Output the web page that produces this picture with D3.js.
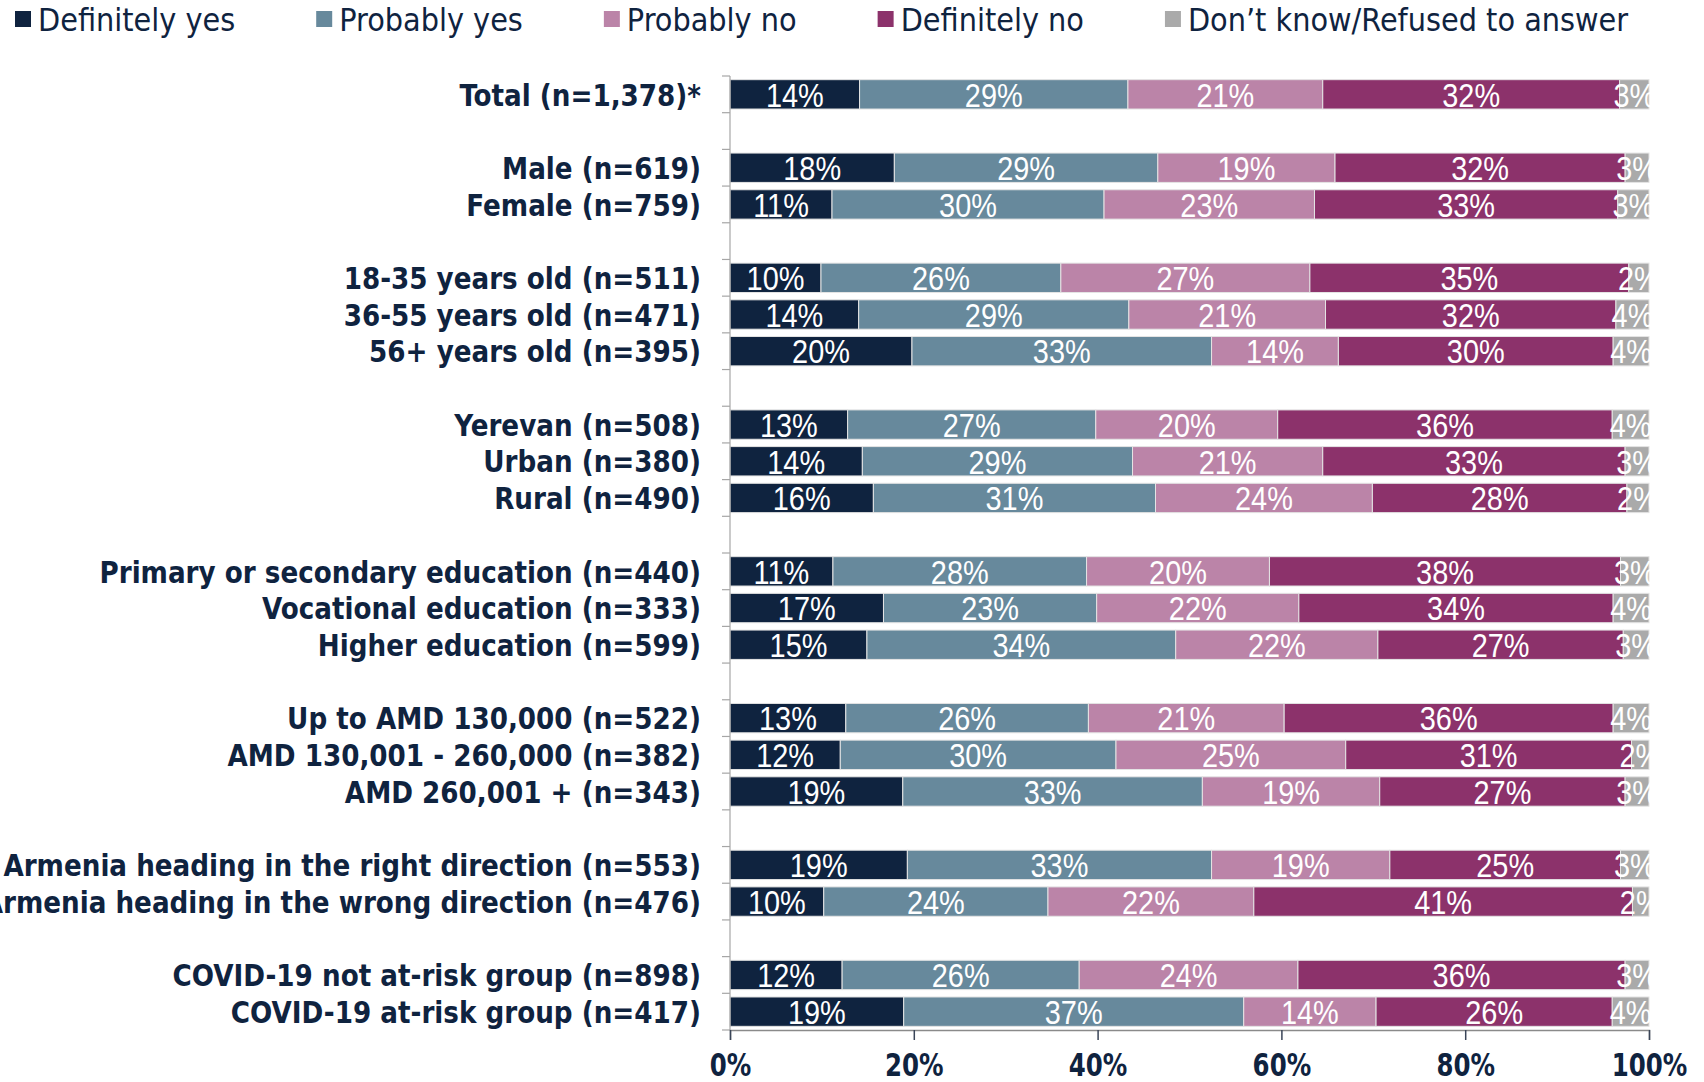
<!DOCTYPE html>
<html>
<head>
<meta charset="utf-8">
<script src="https://cdn.jsdelivr.net/npm/d3@7"></script>
<style>
  html, body { margin: 0; padding: 0; background: #fff; }
  svg { display: block; }
</style>
</head>
<body>
<div id="chart"></div>
<script>
// categories, top to bottom
var categories = [
    "Total (n=1,378)*",
    "Male (n=619)", "Female (n=759)",
    "18-35 years old (n=511)", "36-55 years old (n=471)", "56+ years old (n=395)",
    "Yerevan (n=508)", "Urban (n=380)", "Rural (n=490)",
    "Primary or secondary education (n=440)", "Vocational education (n=333)", "Higher education (n=599)",
    "Up to AMD 130,000 (n=522)", "AMD 130,001 - 260,000 (n=382)", "AMD 260,001 + (n=343)",
    "Armenia heading in the right direction (n=553)", "Armenia heading in the wrong direction (n=476)",
    "COVID-19 not at-risk group (n=898)", "COVID-19 at-risk group (n=417)"
];
// how many categories sit in each block (blocks split by an empty row)
var groupSizes = [1, 2, 3, 3, 3, 3, 2, 2];

var seriesNames = ["Definitely yes", "Probably yes", "Probably no", "Definitely no", "Don\u2019t know/Refused to answer"];

var definitelyYes = [14.1, 17.9, 11.1, 9.9, 14.0, 19.8, 12.8, 14.4, 15.6, 11.2, 16.7, 14.9, 12.6, 12.0, 18.8, 19.3, 10.2, 12.2, 18.9];
var probablyYes   = [29.2, 28.7, 29.6, 26.1, 29.4, 32.6, 27.0, 29.4, 30.7, 27.6, 23.2, 33.6, 26.4, 30.0, 32.6, 33.1, 24.4, 25.8, 37.0];
var probablyNo    = [21.2, 19.3, 22.9, 27.1, 21.4, 13.8, 19.8, 20.7, 23.6, 19.9, 22.0, 22.0, 21.3, 25.0, 19.3, 19.4, 22.4, 23.8, 14.4];
var definitelyNo  = [32.3, 31.6, 33.0, 34.7, 31.6, 29.9, 36.4, 32.9, 27.7, 38.2, 34.2, 26.7, 35.8, 31.1, 26.7, 25.1, 41.2, 35.6, 25.7];
var dontKnow      = [3.2, 2.6, 3.4, 2.2, 3.6, 3.9, 4.0, 2.6, 2.4, 3.1, 3.9, 2.8, 3.9, 1.9, 2.6, 3.1, 1.8, 2.6, 4.0];

var xTicks = [0, 0.2, 0.4, 0.6, 0.8, 1];

var colors = ["#0f233f", "#67899c", "#bb84a8", "#8c326b", "#aaaaaa"];
var textColor = "#0f233f";

var W = 1704, H = 1082;
var plot = {left: 730, right: 1649, top: 76, bottom: 1030};

// build rows incl. empty spacer slots between blocks
var rows = [];
var slots = [];
var ci = 0;
groupSizes.forEach(function(n, g){
    if (g > 0) slots.push("gap" + g);
    for (var k = 0; k < n; k++) {
        var key = "row" + ci;
        slots.push(key);
        rows.push({
            key: key,
            label: categories[ci],
            "Definitely yes": definitelyYes[ci],
            "Probably yes": probablyYes[ci],
            "Probably no": probablyNo[ci],
            "Definitely no": definitelyNo[ci],
            "Don\u2019t know/Refused to answer": dontKnow[ci]
        });
        ci++;
    }
});

var stack = d3.stack().keys(seriesNames).offset(d3.stackOffsetExpand);
var series = stack(rows);

var x = d3.scaleLinear().domain([0, 1]).range([plot.left, plot.right]);
var y = d3.scaleBand().domain(slots).range([plot.top, plot.bottom])
    .paddingInner(0.2).paddingOuter(0.1);

var svg = d3.select("#chart").append("svg")
    .attr("width", W).attr("height", H);

svg.append("defs").append("clipPath").attr("id", "plotclip")
    .append("rect")
    .attr("x", plot.left).attr("y", 0)
    .attr("width", plot.right - plot.left + 1).attr("height", H);

// bars
var layer = svg.append("g").selectAll("g")
    .data(series).enter().append("g")
    .attr("fill", function(d, i){ return colors[i]; });

layer.selectAll("rect")
    .data(function(d){ return d; })
    .enter().append("rect")
    .attr("x", function(d){ return x(d[0]); })
    .attr("width", function(d){ return x(d[1]) - x(d[0]); })
    .attr("y", function(d){ return y(d.data.key); })
    .attr("height", y.bandwidth())
    .attr("stroke", "#e4e4e4")
    .attr("stroke-width", 1);

// value labels
var labels = svg.append("g").attr("clip-path", "url(#plotclip)");
series.forEach(function(s){
    labels.selectAll(null)
        .data(s).enter().append("text")
        .attr("transform", function(d){
            var cx = (x(d[0]) + x(d[1])) / 2;
            var cy = y(d.data.key) + y.bandwidth() / 2;
            return "translate(" + cx + "," + cy + ") scale(0.85,1)";
        })
        .attr("dy", "0.36em")
        .attr("text-anchor", "middle")
        .attr("fill", "#fff")
        .style("font-family", "'Liberation Sans Narrow', 'Liberation Sans', sans-serif")
        .style("font-size", "34px")
        .text(function(d){ return Math.round(d.data[s.key]) + "%"; });
});

// y axis: line with ticks on every slot boundary
var yAxis = svg.append("g").attr("stroke", "#a6a6a6").attr("stroke-width", 1.2);
yAxis.append("line")
    .attr("x1", plot.left).attr("x2", plot.left)
    .attr("y1", plot.top).attr("y2", plot.bottom);
yAxis.selectAll(null)
    .data(d3.range(slots.length + 1)).enter().append("line")
    .attr("x1", plot.left - 8).attr("x2", plot.left)
    .attr("y1", function(i){ return plot.top + i * y.step(); })
    .attr("y2", function(i){ return plot.top + i * y.step(); });

// category labels
svg.append("g").selectAll("text")
    .data(rows).enter().append("text")
    .attr("transform", function(d){
        return "translate(701," + (y(d.key) + y.bandwidth() / 2) + ") scale(0.94,1)";
    })
    .attr("dy", "0.36em")
    .attr("text-anchor", "end")
    .attr("fill", textColor)
    .style("font-family", "'DejaVu Sans', sans-serif")
    .style("font-stretch", "condensed")
    .style("font-weight", "bold")
    .style("font-size", "31px")
    .text(function(d){ return d.label; });

// x axis
var xAxis = d3.axisBottom(x)
    .tickValues(xTicks)
    .tickFormat(d3.format(".0%"))
    .tickSize(10)
    .tickPadding(0);

var gx = svg.append("g")
    .attr("transform", "translate(0," + plot.bottom + ")")
    .call(xAxis);
gx.select(".domain").attr("stroke", "#8a8a8a").attr("stroke-width", 1.5);
gx.selectAll(".tick line").attr("stroke", "#3a4558").attr("stroke-width", 1.5);
gx.selectAll(".tick text")
    .attr("y", 0)
    .attr("dy", 0)
    .attr("transform", "translate(0,46) scale(0.85,1)")
    .attr("fill", textColor)
    .style("font-family", "'DejaVu Sans', sans-serif")
    .style("font-stretch", "condensed")
    .style("font-weight", "bold")
    .style("font-size", "32px");

// legend across the top
var legend = svg.append("g");
var lx = 15;
seriesNames.forEach(function(name, i){
    var item = legend.append("g").attr("transform", "translate(" + lx + ",0)");
    item.append("rect")
        .attr("x", 0).attr("y", 11)
        .attr("width", 16).attr("height", 16)
        .attr("fill", colors[i]);
    var t = item.append("text")
        .attr("x", 23).attr("y", 31)
        .attr("fill", textColor)
        .style("font-family", "'DejaVu Sans', sans-serif")
        .style("font-stretch", "condensed")
        .style("font-size", "32px")
        .text(name);
    lx += 23 + t.node().getComputedTextLength() + 81;
});
</script>
</body>
</html>
